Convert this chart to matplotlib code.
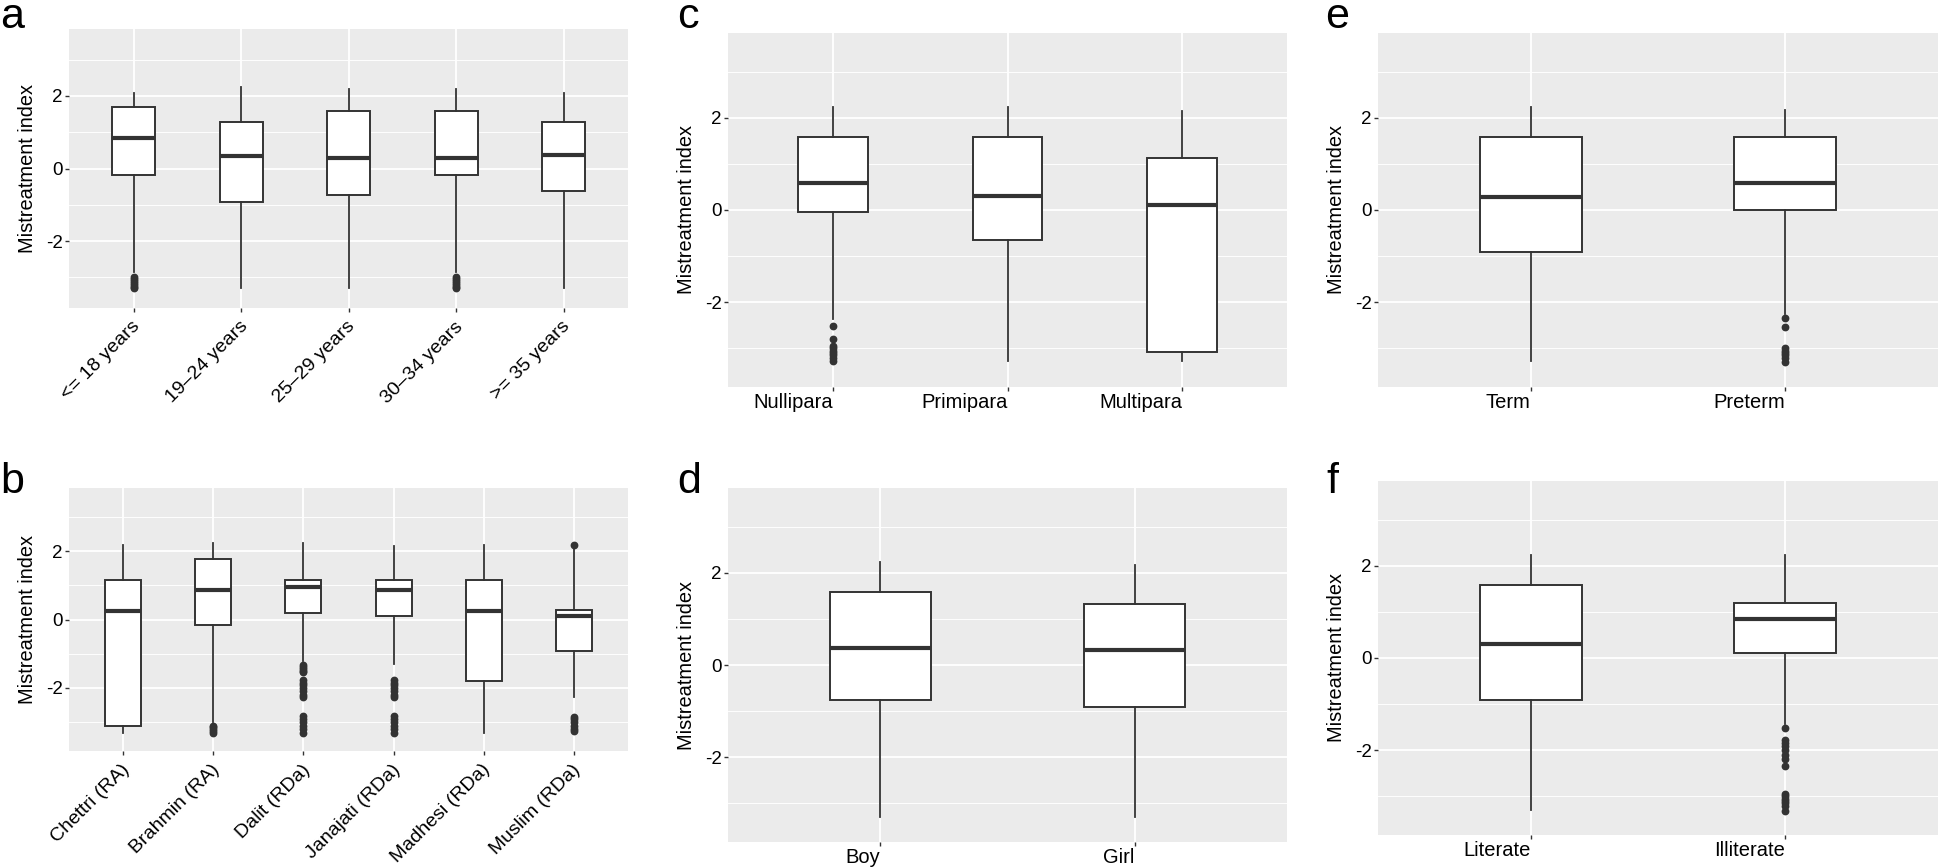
import matplotlib
matplotlib.use('Agg')
import matplotlib.pyplot as plt
from matplotlib.transforms import ScaledTranslation

plt.rcParams['font.family'] = ['Liberation Sans', 'DejaVu Sans']
plt.rcParams['axes.unicode_minus'] = False

# a: age
age_labels = ['<= 18 years', '19–24 years', '25–29 years', '30–34 years', '>= 35 years']
age_whishi = [2.07, 2.23, 2.18, 2.18, 2.07]
age_q3 = [1.68, 1.29, 1.58, 1.58, 1.29]
age_med = [0.83, 0.35, 0.28, 0.28, 0.37]
age_q1 = [-0.19, -0.92, -0.73, -0.19, -0.61]
age_whislo = [-2.85, -3.30, -3.30, -2.85, -3.30]
age_fliers = [[-3.0, -3.05, -3.1, -3.15, -3.2, -3.25, -3.3], [], [],
              [-3.0, -3.05, -3.1, -3.15, -3.2, -3.25, -3.3], []]

# b: caste / ethnicity
eth_labels = ['Chettri (RA)', 'Brahmin (RA)', 'Dalit (RDa)', 'Janajati (RDa)', 'Madhesi (RDa)', 'Muslim (RDa)']
eth_whishi = [2.19, 2.24, 2.24, 2.16, 2.19, 2.05]
eth_q3 = [1.15, 1.78, 1.16, 1.16, 1.15, 0.28]
eth_med = [0.26, 0.87, 0.95, 0.86, 0.26, 0.11]
eth_q1 = [-3.10, -0.17, 0.19, 0.11, -1.79, -0.93]
eth_whislo = [-3.30, -3.0, -1.2, -1.31, -3.30, -2.27]
eth_fliers = [[],
              [-3.1, -3.15, -3.2, -3.25, -3.3],
              [-1.34, -1.4, -1.45, -1.5, -1.54, -1.78, -1.85, -1.9, -2.0, -2.1, -2.2, -2.27,
               -2.81, -2.9, -3.0, -3.1, -3.2, -3.3],
              [-1.78, -1.85, -1.9, -2.0, -2.1, -2.2, -2.27, -2.81, -2.9, -3.0, -3.1, -3.2, -3.3],
              [],
              [2.18, -2.84, -2.9, -3.0, -3.1, -3.2, -3.27]]

# c: parity
par_labels = ['Nullipara', 'Primipara', 'Multipara']
par_whishi = [2.23, 2.23, 2.15]
par_q3 = [1.58, 1.58, 1.12]
par_med = [0.59, 0.30, 0.11]
par_q1 = [-0.04, -0.64, -3.08]
par_whislo = [-2.36, -3.28, -3.28]
par_fliers = [[-2.52, -2.79, -2.96, -3.0, -3.05, -3.1, -3.15, -3.2, -3.28], [], []]

# d: sex of baby
sex_labels = ['Boy', 'Girl']
sex_whishi = [2.23, 2.17]
sex_q3 = [1.58, 1.32]
sex_med = [0.37, 0.33]
sex_q1 = [-0.75, -0.91]
sex_whislo = [-3.30, -3.30]
sex_fliers = [[], []]

# e: gestation
ges_labels = ['Term', 'Preterm']
ges_whishi = [2.23, 2.17]
ges_q3 = [1.58, 1.58]
ges_med = [0.29, 0.59]
ges_q1 = [-0.91, 0.01]
ges_whislo = [-3.28, -2.25]
ges_fliers = [[], [-2.34, -2.54, -2.99, -3.05, -3.1, -3.15, -3.2, -3.29]]

# f: literacy
lit_labels = ['Literate', 'Illiterate']
lit_whishi = [2.24, 2.24]
lit_q3 = [1.58, 1.19]
lit_med = [0.30, 0.85]
lit_q1 = [-0.91, 0.11]
lit_whislo = [-3.29, -1.43]
lit_fliers = [[], [-1.52, -1.78, -1.85, -1.9, -2.0, -2.1, -2.2, -2.34,
                   -2.95, -3.0, -3.05, -3.1, -3.15, -3.2, -3.31]]

W, H = 1944, 868
fig = plt.figure(figsize=(W / 100, H / 100), dpi=100)
DARK = '#333333'


def panel(rect_px, labels, whislo, q1, med, q3, whishi, fliers, rotate=False):
    l, t, r, b = rect_px
    ax = fig.add_axes([l / W, 1 - b / H, (r - l) / W, (b - t) / H])
    stats = []
    for i in range(len(labels)):
        stats.append(dict(whislo=whislo[i], q1=q1[i], med=med[i], q3=q3[i],
                          whishi=whishi[i], fliers=fliers[i]))
    n = len(labels)
    ax.bxp(stats, positions=list(range(1, n + 1)), widths=0.4, patch_artist=True,
           showcaps=False,
           boxprops=dict(facecolor='white', edgecolor=DARK, linewidth=1.4),
           medianprops=dict(color=DARK, linewidth=3.0),
           whiskerprops=dict(color=DARK, linewidth=1.3),
           flierprops=dict(marker='o', markerfacecolor=DARK, markeredgecolor=DARK,
                           markersize=4.6, linestyle='none'))
    ax.set_facecolor('#EBEBEB')
    ax.set_xlim(0.4, n + 0.6)
    ax.set_ylim(-3.84, 3.84)
    ax.set_yticks([-2, 0, 2])
    ax.set_yticks([-3, -1, 1, 3], minor=True)
    ax.set_xticks(list(range(1, n + 1)))
    ax.grid(which='major', color='white', linewidth=1.3)
    ax.grid(which='minor', axis='y', color='white', linewidth=0.65)
    ax.set_axisbelow(True)
    for s in ax.spines.values():
        s.set_visible(False)
    ax.tick_params(which='major', length=2.6, width=1, color=DARK, pad=1.8)
    ax.tick_params(which='minor', length=0)
    ax.set_yticklabels(['-2', '0', '2'], fontsize=13.5, color='black')
    if rotate:
        ax.set_xticklabels(labels, fontsize=14, rotation=45, ha='right', va='top',
                           rotation_mode='anchor', color='black')
        shift = ScaledTranslation(-2 / 100, -4 / 100, fig.dpi_scale_trans)
        for lab in ax.get_xticklabels():
            lab.set_transform(lab.get_transform() + shift)
    else:
        ax.set_xticklabels(labels, fontsize=14.5, color='black', ha='right')
        ax.tick_params(axis='x', pad=2.0)
    ax.set_ylabel('Mistreatment index', fontsize=14.4, color='black')
    ax.yaxis.set_label_coords(-32 / (r - l), 0.5)
    return ax


panel((69, 29, 628, 308), age_labels, age_whislo, age_q1, age_med, age_q3, age_whishi, age_fliers, True)
panel((69, 488, 628, 751), eth_labels, eth_whislo, eth_q1, eth_med, eth_q3, eth_whishi, eth_fliers, True)
panel((728, 33, 1287, 387), par_labels, par_whislo, par_q1, par_med, par_q3, par_whishi, par_fliers)
panel((728, 488, 1287, 842), sex_labels, sex_whislo, sex_q1, sex_med, sex_q3, sex_whishi, sex_fliers)
panel((1378, 33, 1938, 387), ges_labels, ges_whislo, ges_q1, ges_med, ges_q3, ges_whishi, ges_fliers)
panel((1378, 481, 1938, 835), lit_labels, lit_whislo, lit_q1, lit_med, lit_q3, lit_whishi, lit_fliers)

for letter, x, y in [('a', 0, 28), ('b', 0, 493), ('c', 677, 28), ('d', 677, 493),
                     ('e', 1325, 28), ('f', 1326, 493)]:
    fig.text(x / W, 1 - y / H, letter, fontsize=31, color='black',
             ha='left', va='baseline')

fig.savefig('out.png', dpi=100)
